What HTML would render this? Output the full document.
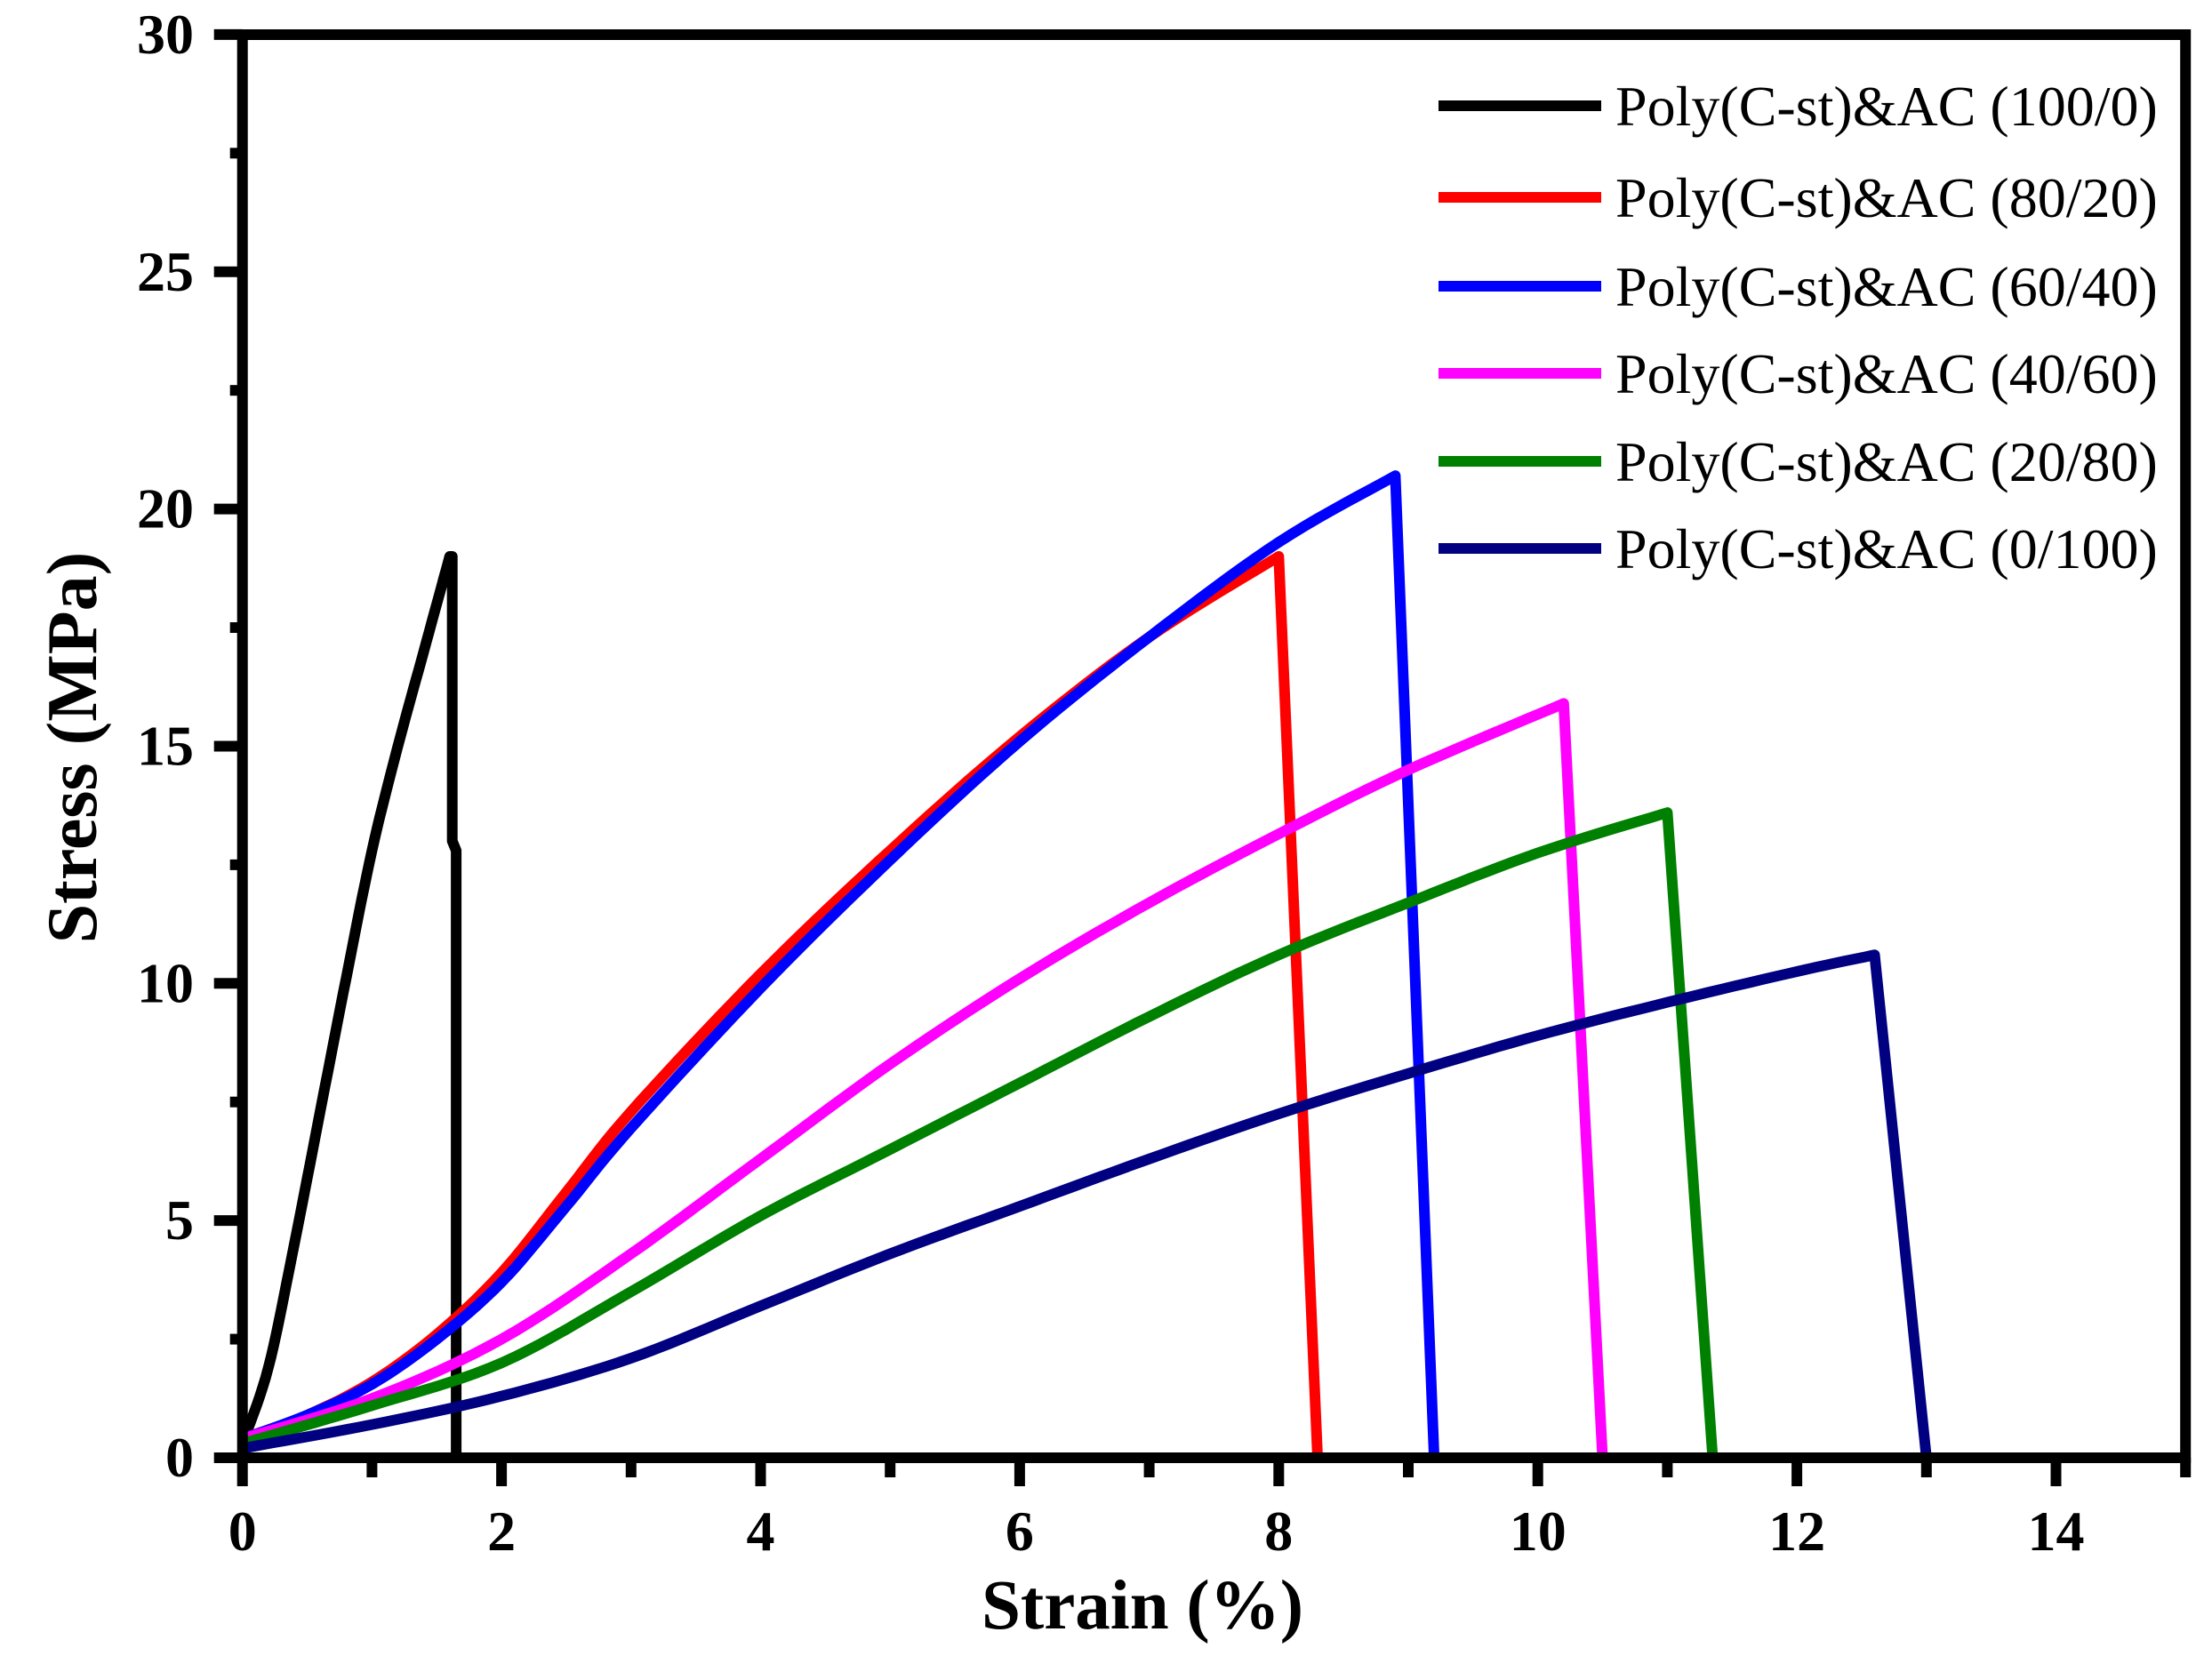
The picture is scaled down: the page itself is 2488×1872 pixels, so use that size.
<!DOCTYPE html>
<html><head><meta charset="utf-8"><style>
html,body{margin:0;padding:0;background:#fff;}
svg{display:block;}
text{font-family:"Liberation Serif",serif;}
</style></head><body>
<svg id="s" width="2488" height="1872" viewBox="0 0 2488 1872" xmlns="http://www.w3.org/2000/svg"></svg>
<script>
const X0=272.7,XS=145.7,Y0=1640,YS=53.37;
const px=x=>X0+x*XS, py=y=>Y0-y*YS;
let h='';
function path(pts,c,w){
  let d='M'+pts.map(p=>px(p[0]).toFixed(1)+','+py(p[1]).toFixed(1)).join(' L');
  h+=`<path d="${d}" fill="none" stroke="${c}" stroke-width="${w}" stroke-linejoin="round" stroke-linecap="butt"/>`;
}
function smooth(pts){
  let out=[];
  for(let i=0;i<pts.length-1;i++){
    const p0=pts[Math.max(0,i-1)],p1=pts[i],p2=pts[i+1],p3=pts[Math.min(pts.length-1,i+2)];
    for(let t=0;t<1;t+=0.1){
      const t2=t*t,t3=t2*t;
      const f=(a,b,c,d)=>0.5*((2*b)+(-a+c)*t+(2*a-5*b+4*c-d)*t2+(-a+3*b-3*c+d)*t3);
      out.push([f(p0[0],p1[0],p2[0],p3[0]),f(p0[1],p1[1],p2[1],p3[1])]);
    }
  }
  out.push(pts[pts.length-1]);return out;
}
const series=[
 ['#000000',[[0,0.3],[0.2,1.9],[0.4,4.5],[0.6,7.3],[0.8,10.1],[1.0,12.8],[1.2,15.0],[1.4,17.0],[1.6,19]],[[1.62,19],[1.62,13],[1.65,12.8],[1.65,0]]],
 ['#ff0000',[[0,0.4],[0.5,0.9],[1,1.6],[1.5,2.6],[2,3.9],[2.5,5.6],[3,7.3],[4,10.2],[5,12.8],[6,15.2],[7,17.3],[8,19]],[[8,19],[8.3,0]]],
 ['#0000ff',[[0,0.4],[0.5,0.9],[1,1.55],[1.5,2.5],[2,3.7],[2.5,5.3],[3,6.95],[4,9.9],[5,12.6],[6,15.1],[7,17.3],[8,19.3],[8.9,20.7]],[[8.9,20.7],[9.2,0]]],
 ['#ff00ff',[[0,0.4],[1,1.25],[2,2.5],[3,4.3],[4,6.3],[5,8.3],[6,10.1],[7,11.7],[8,13.15],[9,14.5],[10.2,15.9]],[[10.2,15.9],[10.5,0]]],
 ['#008000',[[0,0.3],[1,1.1],[2,2.0],[3,3.5],[4,5.1],[5,6.5],[6,7.9],[7,9.3],[8,10.6],[9,11.7],[10,12.75],[11,13.6]],[[11,13.6],[11.35,0]]],
 ['#000080',[[0,0.2],[1,0.7],[2,1.3],[3,2.1],[4,3.2],[5,4.3],[6,5.3],[7,6.3],[8,7.25],[9,8.1],[10,8.9],[11,9.6],[12,10.25],[12.6,10.6]],[[12.6,10.6],[13,0]]]
];
series.forEach(s=>{path(smooth(s[1]).concat(s[2]),s[0],12);});
h+=`<rect x="${X0}" y="39" width="${px(15)-X0}" height="${Y0-39}" fill="none" stroke="#000" stroke-width="12"/>`;
for(let i=0;i<=15;i++){const x=px(i);const major=i%2==0;
 h+=`<line x1="${x}" y1="${Y0}" x2="${x}" y2="${Y0+(major?32:22)}" stroke="#000" stroke-width="12"/>`;
 if(major)h+=`<text x="${x}" y="1744" font-size="64" font-weight="bold" text-anchor="middle">${i}</text>`;}
for(let v=0;v<=30;v+=2.5){const y=py(v);const major=v%5==0;
 h+=`<line x1="${X0}" y1="${y}" x2="${X0-(major?32:14)}" y2="${y}" stroke="#000" stroke-width="12"/>`;
 if(major)h+=`<text x="218" y="${y+21}" font-size="64" font-weight="bold" text-anchor="end">${v}</text>`;}
h+=`<text x="1285" y="1832" font-size="79" font-weight="bold" text-anchor="middle">Strain (%)</text>`;
h+=`<text transform="translate(108,841) rotate(-90)" font-size="80" font-weight="bold" text-anchor="middle">Stress (MPa)</text>`;
const lab=['(100/0)','(80/20)','(60/40)','(40/60)','(20/80)','(0/100)'];
const ly=[119,222,322,420,519,617];
series.forEach((s,i)=>{
 h+=`<line x1="1618" y1="${ly[i]}" x2="1801" y2="${ly[i]}" stroke="${s[0]}" stroke-width="12"/>`;
 h+=`<text x="1817" y="${ly[i]+22}" font-size="64">Poly(C-st)&amp;AC ${lab[i]}</text>`;
});
document.getElementById('s').innerHTML=h;
</script>
</body></html>
